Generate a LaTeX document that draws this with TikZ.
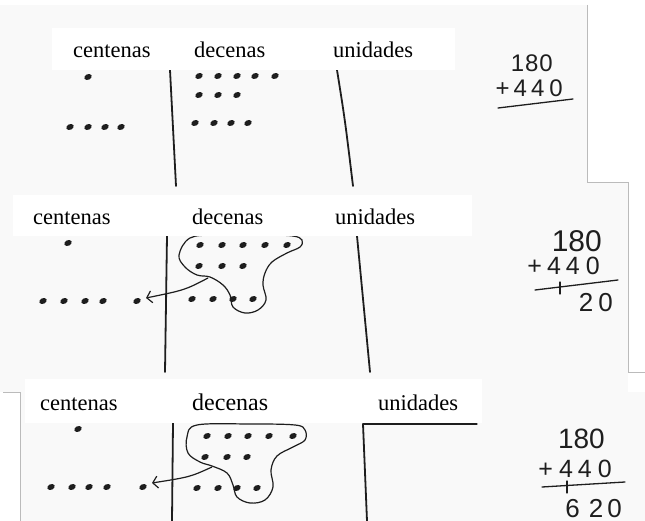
\documentclass[tikz,border=0pt]{standalone}
\usepackage{fontspec}
\setmainfont{Liberation Serif}
\newfontfamily\handfont{Liberation Sans}
\usepackage{xcolor}
\definecolor{paper}{HTML}{F9F9F9}
\definecolor{edge}{HTML}{BBBBBB}
\definecolor{ink}{HTML}{1E1E1E}
\usetikzlibrary{arrows.meta}

\begin{document}
\begin{tikzpicture}[
  x=1pt, y=-1pt,
  pen/.style={draw=ink, line width=1.8pt, line cap=round},
  thinpen/.style={draw=ink, line width=1.3pt, line cap=round},
  dot/.style={fill=ink},
  dotshape/.style={x radius=3.9pt, y radius=2.8pt, rotate=25},
  arr/.style={
    draw=ink,
    line width=1.2pt,
    -{Straight Barb[length=5pt, width=12pt, line width=1.2pt]}
  },
  blob/.style={draw=ink, line width=1.2pt},
  labelbox/.style={fill=white, draw=none},
  head/.style={
    font=\fontsize{22.5}{26}\selectfont,
    anchor=base west,
    inner sep=0pt
  },
  sum/.style={
    font=\handfont\fontsize{24}{28}\selectfont,
    anchor=base east,
    inner sep=0pt,
    text=ink
  }
]
\useasboundingbox (0,0) rectangle (645,521);
\fill[white] (0,0) rectangle (645,521);

% Paper sheets
\fill[paper] (0,5) rectangle (587,183);
\fill[paper] (0,183) rectangle (628,392);
\fill[paper] (20,392) rectangle (645,521);
\draw[edge, line width=1pt] (587,5) -- (587,183) -- (628,183) -- (628,372) -- (645,372);
\draw[edge, line width=1pt] (3,392) -- (20,392) -- (20,521);

% Panel 1: columns and dots
\draw[pen] (170,70) -- (176,186);
\draw[pen] (337,70) .. controls (345,120) .. (353,186);
\fill[dot] (88,77) ellipse [dotshape];
\foreach \x in {70,88,105,121}
  \fill[dot] (\x,127) ellipse [dotshape];
\foreach \x in {199,218,237,255,275}
  \fill[dot] (\x,76) ellipse [dotshape];
\foreach \x in {199,218,237}
  \fill[dot] (\x,95) ellipse [dotshape];
\foreach \x in {195,214,231,248}
  \fill[dot] (\x,123) ellipse [dotshape];

% Panel 1: labels
\fill[labelbox] (52,28) rectangle (455,70);
\node[head] (cent1) at (73,58) {centenas};
\node[head] (dec1) at (194,58) {decenas};
\node[head] (uni1) at (333,58) {unidades};

% Panel 1: sum
\node[sum] (topA) at (553,72) {1\hspace{1pt}8\hspace{1pt}0};
\node[sum] (addA) at (563,97) {+\hspace{4pt}4\hspace{4pt}4\hspace{5pt}0};
\draw[thinpen] (498,108) -- (573,99);

% Panel 2: columns and dots
\draw[pen] (167,236) -- (165,372);
\draw[pen] (357,236) -- (370,372);
\fill[dot] (68,243) ellipse [dotshape];
\foreach \x in {43,64,85,103,137}
  \fill[dot] (\x,301) ellipse [dotshape];
\foreach \x in {200,222,243,265,287}
  \fill[dot] (\x,245) ellipse [dotshape];
\foreach \x in {199,222,243}
  \fill[dot] (\x,266) ellipse [dotshape];
\foreach \x in {192,213,233,253}
  \fill[dot] (\x,299) ellipse [dotshape];
\draw[blob] plot[smooth cycle, tension=0.6] coordinates {
  (190,238) (179,255) (185,267) (197,275) (210,277) (223,285)
  (230,295) (233,307) (245,313) (258,310) (266,300) (263,285)
  (265,273) (272,262) (287,253) (300,247) (302,240) (293,236)
  (267,235) (217,235)};
\coordinate (groupB) at (208,278);
\coordinate (tipB) at (146,298);
\draw[arr] (groupB) .. controls (185,290) .. (tipB);

% Panel 2: labels
\fill[labelbox] (13,195) rectangle (472,236);
\node[head] (cent2) at (33,225) {centenas};
\node[head] (dec2) at (192,225) {decenas};
\node[head] (uni2) at (335,225) {unidades};

% Panel 2: sum
\node[sum, font=\handfont\fontsize{30}{34}\selectfont] (topB) at (602,252) {180};
\node[sum, font=\handfont\fontsize{25}{30}\selectfont] (addB) at (600,275)
  {+\hspace{5pt}4\hspace{5pt}4\hspace{6pt}0};
\draw[thinpen] (535,290) -- (618,280);
\draw[thinpen] (560,282) -- (560,294);
\node[sum, font=\handfont\fontsize{26}{30}\selectfont] (resB) at (613,312)
  {2\hspace{5pt}0};

% Panel 3: columns and dots
\draw[pen] (173,423) -- (172,521);
\draw[pen] (363,424) -- (367,521);
\draw[thinpen] (363,424) -- (477,424);
\fill[dot] (78,429) ellipse [dotshape];
\foreach \x in {51,72,89,107,143}
  \fill[dot] (\x,487) ellipse [dotshape];
\foreach \x in {207,228,248,269,293}
  \fill[dot] (\x,436) ellipse [dotshape];
\foreach \x in {205,227,247}
  \fill[dot] (\x,457) ellipse [dotshape];
\foreach \x in {197,218,237,257}
  \fill[dot] (\x,488) ellipse [dotshape];
\draw[blob] plot[smooth cycle, tension=0.6] coordinates {
  (197,425) (187,437) (188,453) (200,462) (212,466) (227,473)
  (233,485) (237,497) (250,503) (265,500) (273,487) (271,470)
  (277,456) (293,447) (305,440) (305,430) (295,425) (250,424)};
\coordinate (groupC) at (212,467);
\coordinate (tipC) at (152,483);
\draw[arr] (groupC) .. controls (190,477) .. (tipC);

% Panel 3: labels
\fill[labelbox] (25,379) rectangle (482,423);
\node[head] (cent3) at (40,410) {centenas};
\node[head, font=\fontsize{24}{28}\selectfont] (dec3) at (192,410) {decenas};
\node[head] (uni3) at (378,410) {unidades};

% Panel 3: sum
\node[sum, font=\handfont\fontsize{28}{32}\selectfont] (topC) at (605,448) {180};
\node[sum, font=\handfont\fontsize{25}{30}\selectfont] (addC) at (612,477)
  {+\hspace{6pt}4\hspace{5pt}4\hspace{6pt}0};
\draw[thinpen] (542,487) -- (625,482);
\draw[thinpen] (567,481) -- (567,493);
\node[sum, font=\handfont\fontsize{26}{30}\selectfont] (resC) at (622,517)
  {6\hspace{9pt}2\hspace{4pt}0};

\end{tikzpicture}
\end{document}
